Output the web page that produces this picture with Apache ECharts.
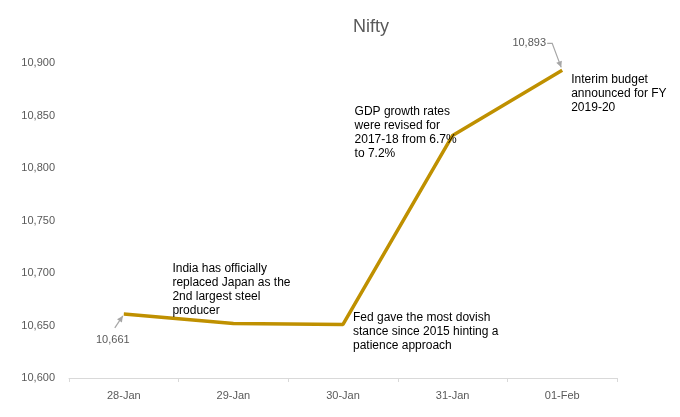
<!DOCTYPE html>
<html><head><meta charset="utf-8">
<script src="https://cdn.jsdelivr.net/npm/echarts@6/dist/echarts.min.js"></script>
<style>html,body{margin:0;padding:0;background:#fff}#c{width:680px;height:417px}</style>
</head><body><div id="c"></div>
<script>
const categories = ['28-Jan','29-Jan','30-Jan','31-Jan','01-Feb'];
const nifty = [10661, 10652, 10651, 10831, 10893];
const yTicks = [10600, 10650, 10700, 10750, 10800, 10850, 10900];
const noteIdx = [1, 3, 4, 2];
const noteText = [
  'India has officially\nreplaced Japan as the\n2nd largest steel\nproducer',
  'GDP growth rates\nwere revised for\n2017-18 from 6.7%\nto 7.2%',
  'Interim budget\nannounced for FY\n2019-20',
  'Fed gave the most dovish\nstance since 2015 hinting a\npatience approach'
];
const noteOffset = [[-61,-62],[-98,-31],[9,2],[10,-14]];
const chart = echarts.init(document.getElementById('c'));
const arial = '"Liberation Sans", Arial, sans-serif';
chart.setOption({
  animation:false,
  title:{text:'Nifty', left:366, top:13, textAlign:'center',
    textStyle:{color:'#595959', fontSize:18, fontWeight:'normal', fontFamily:arial}},
  grid:{left:69, right:63, top:63, bottom:39},
  xAxis:{type:'category', data:categories, boundaryGap:true,
    axisLine:{lineStyle:{color:'#d9d9d9'}}, axisTick:{show:true, length:4, lineStyle:{color:'#d9d9d9'}},
    axisLabel:{color:'#595959', fontSize:11, margin:12, fontFamily:arial}},
  yAxis:{type:'value', min:yTicks[0], max:yTicks[yTicks.length-1], interval:50,
    splitLine:{show:false}, axisLine:{show:false}, axisTick:{show:false},
    axisLabel:{color:'#595959', fontSize:11, margin:14, fontFamily:arial,
      formatter:v=>v.toLocaleString('en-US')}},
  series:[{type:'line', data:nifty, symbol:'none', lineStyle:{color:'#BF9000', width:3.5}}]
});
const g = [];
noteIdx.forEach((idx,i)=>{
  const p = chart.convertToPixel({xAxisIndex:0,yAxisIndex:0},[idx, nifty[idx]]);
  g.push({type:'text', x:p[0]+noteOffset[i][0], y:p[1]+noteOffset[i][1], z:10,
    style:{text:noteText[i], fill:'#000', font:'12px '+arial, lineHeight:14, align:'left', verticalAlign:'top'}});
});
const p0 = chart.convertToPixel({xAxisIndex:0,yAxisIndex:0},[0, nifty[0]]);
const p4 = chart.convertToPixel({xAxisIndex:0,yAxisIndex:0},[4, nifty[4]]);
function arrow(pts){
  const a = pts[pts.length-2], b = pts[pts.length-1];
  const ang = Math.atan2(b[1]-a[1], b[0]-a[0]);
  const L=6, W=3;
  const bx=b[0]-L*Math.cos(ang), by=b[1]-L*Math.sin(ang);
  g.push({type:'polyline', shape:{points:pts}, style:{stroke:'#a6a6a6', lineWidth:1.2, fill:null}, z:9});
  g.push({type:'polygon', shape:{points:[b,[bx+W*Math.sin(ang), by-W*Math.cos(ang)],[bx-W*Math.sin(ang), by+W*Math.cos(ang)]]},
    style:{fill:'#a6a6a6'}, z:9});
}
arrow([[p0[0]-9,p0[1]+14],[p0[0]-1,p0[1]+2]]);
g.push({type:'text', x:p0[0]-11, y:p0[1]+26, z:10,
  style:{text:nifty[0].toLocaleString('en-US'), fill:'#595959', font:'11px '+arial, align:'center', verticalAlign:'middle'}});
arrow([[p4[0]-15,p4[1]-27],[p4[0]-10,p4[1]-27],[p4[0]-1,p4[1]-3]]);
g.push({type:'text', x:p4[0]-33, y:p4[1]-27, z:10,
  style:{text:nifty[4].toLocaleString('en-US'), fill:'#595959', font:'11px '+arial, align:'center', verticalAlign:'middle'}});
chart.setOption({graphic:g});
</script></body></html>
